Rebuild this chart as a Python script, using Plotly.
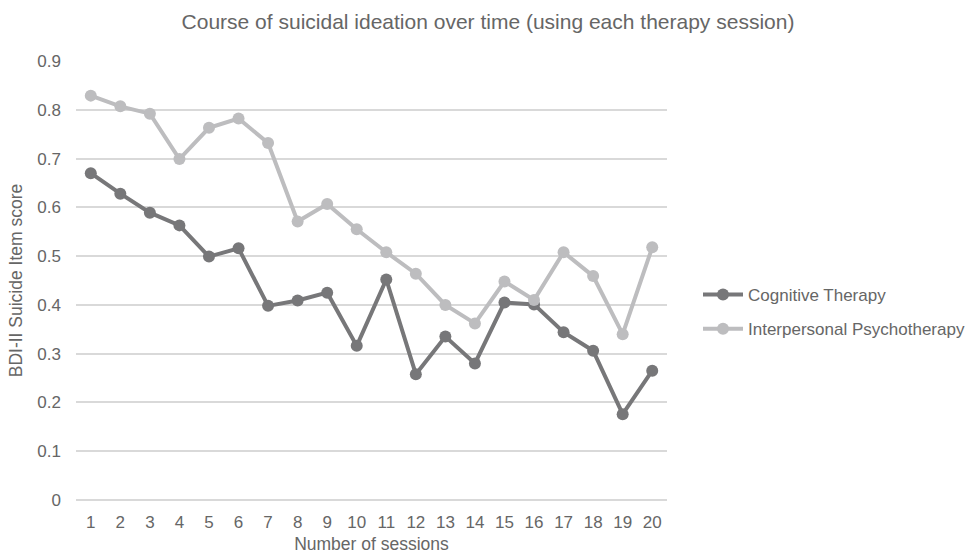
import plotly.graph_objects as go

sessions = list(range(1, 21))
cognitive = [0.670, 0.628, 0.589, 0.563, 0.499, 0.516, 0.398, 0.409, 0.425, 0.316,
             0.452, 0.258, 0.335, 0.280, 0.405, 0.401, 0.344, 0.306, 0.176, 0.265]
interpersonal = [0.829, 0.807, 0.792, 0.699, 0.763, 0.782, 0.732, 0.571, 0.607, 0.555,
                 0.508, 0.464, 0.400, 0.362, 0.448, 0.410, 0.508, 0.459, 0.340, 0.518]
y_ticks = [0, 0.1, 0.2, 0.3, 0.4, 0.5, 0.6, 0.7, 0.8, 0.9]
y_tick_text = ["0", "0.1", "0.2", "0.3", "0.4", "0.5", "0.6", "0.7", "0.8", "0.9"]

ct_color = "#777779"
ipt_color = "#bdbdbf"
text_color = "#666666"
font_family = "Liberation Sans, Arial, sans-serif"

fig = go.Figure()
fig.add_trace(go.Scatter(
    x=sessions, y=cognitive, name="Cognitive Therapy", mode="lines+markers",
    line=dict(color=ct_color, width=4), marker=dict(color=ct_color, size=12),
    legendgroup="a"))
fig.add_trace(go.Scatter(
    x=sessions, y=interpersonal, name="Interpersonal Psychotherapy", mode="lines+markers",
    line=dict(color=ipt_color, width=4), marker=dict(color=ipt_color, size=12),
    legendgroup="b"))

fig.update_layout(
    width=973, height=554,
    paper_bgcolor="white", plot_bgcolor="white",
    margin=dict(l=76, r=306, t=61, b=54, autoexpand=False),
    font=dict(family=font_family, color=text_color, size=17),
    title=dict(text="Course of suicidal ideation over time (using each therapy session)",
               x=488 / 973, xanchor="center", y=1 - 22 / 554, yanchor="middle",
               font=dict(size=21, color=text_color)),
    showlegend=True,
    legend=dict(x=(698 - 76) / 591, xanchor="left", y=(500 - 312) / 439, yanchor="middle",
                xref="paper", yref="paper", itemwidth=40,
                font=dict(size=17, color=text_color),
                tracegroupgap=9, bgcolor="rgba(0,0,0,0)"),
    xaxis=dict(range=[0.5, 20.5], tickmode="array", tickvals=sessions,
               ticktext=[str(s) for s in sessions], showgrid=False, zeroline=False,
               showline=False, ticks="", tickfont=dict(size=17, color=text_color),
               ticklabelstandoff=10,
               title=dict(text="Number of sessions", font=dict(size=17.5, color=text_color),
                          standoff=7)),
    yaxis=dict(range=[0, 0.9], tickmode="array", tickvals=y_ticks, ticktext=y_tick_text,
               showgrid=True, gridcolor="#d9d9d9", gridwidth=1.5, zeroline=True,
               zerolinecolor="#d9d9d9", zerolinewidth=1.5, showline=False, ticks="",
               tickfont=dict(size=17, color=text_color), ticklabelstandoff=14,
               title=dict(text="BDI-II Suicide Item score", font=dict(size=17.5, color=text_color),
                          standoff=10)),
)

fig.write_html("out.html", config={"displayModeBar": False},
               post_script="document.body.style.margin='0px';")
